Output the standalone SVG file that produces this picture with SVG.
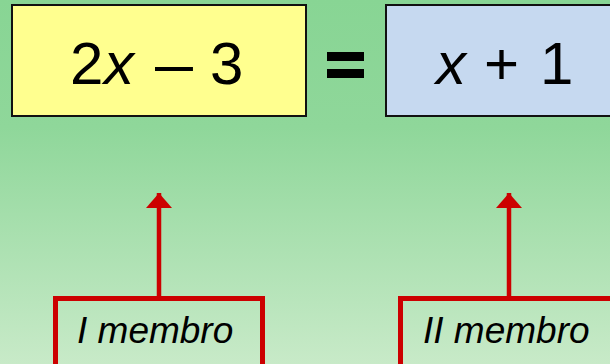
<svg xmlns="http://www.w3.org/2000/svg" width="610" height="364" viewBox="0 0 610 364">
  <defs>
    <linearGradient id="bg" x1="0" y1="0" x2="0" y2="1">
      <stop offset="0" stop-color="#88d594"/>
      <stop offset="0.35" stop-color="#8fd79a"/>
      <stop offset="1" stop-color="#c8eac8"/>
    </linearGradient>
    <marker id="head" viewBox="0 0 15 26" refX="15" refY="13" markerWidth="15" markerHeight="26" markerUnits="userSpaceOnUse" orient="auto">
      <path d="M0,0 L15,13 L0,26 Z" fill="#cc0000"/>
    </marker>
  </defs>
  <style>
    .term { stroke: #111; stroke-width: 2; }
    .math { font-family: "Liberation Sans", Arial, sans-serif; font-size: 60px; fill: #000; }
    .it { font-style: italic; }
    .label { fill: none; stroke: #cc0000; stroke-width: 5; }
    .ltext { font-family: "Liberation Sans", Arial, sans-serif; font-size: 37px; font-style: italic; fill: #000; }
    .conn { stroke: #cc0000; stroke-width: 4.5; fill: none; }
  </style>

  <rect x="0" y="0" width="610" height="364" fill="url(#bg)"/>

  <g id="left-member">
    <rect class="term" x="12" y="5" width="294" height="111" fill="#ffff8f"/>
    <text class="math" y="84"><tspan x="70">2</tspan><tspan x="104" class="it">x</tspan><tspan x="155" textLength="38" lengthAdjust="spacingAndGlyphs">–</tspan><tspan x="210">3</tspan></text>
  </g>

  <g id="equals">
    <rect x="327" y="52" width="37" height="9" fill="#000"/>
    <rect x="327" y="69" width="37" height="9" fill="#000"/>
  </g>

  <g id="right-member">
    <rect class="term" x="386" y="5" width="230" height="111" fill="#c6d9f0"/>
    <text class="math" y="84"><tspan x="436" class="it">x</tspan><tspan x="484">+</tspan><tspan x="540">1</tspan></text>
  </g>

  <g id="label-first">
    <rect class="label" x="55.5" y="298.5" width="207" height="80"/>
    <text class="ltext" x="77" y="343">I membro</text>
  </g>

  <g id="label-second">
    <rect class="label" x="400.5" y="298.5" width="230" height="80"/>
    <text class="ltext" x="423" y="343">II membro</text>
  </g>

  <g id="connectors">
    <line class="conn" x1="159" y1="296" x2="159" y2="193" marker-end="url(#head)"/>
    <line class="conn" x1="509" y1="296" x2="509" y2="193" marker-end="url(#head)"/>
  </g>
</svg>
